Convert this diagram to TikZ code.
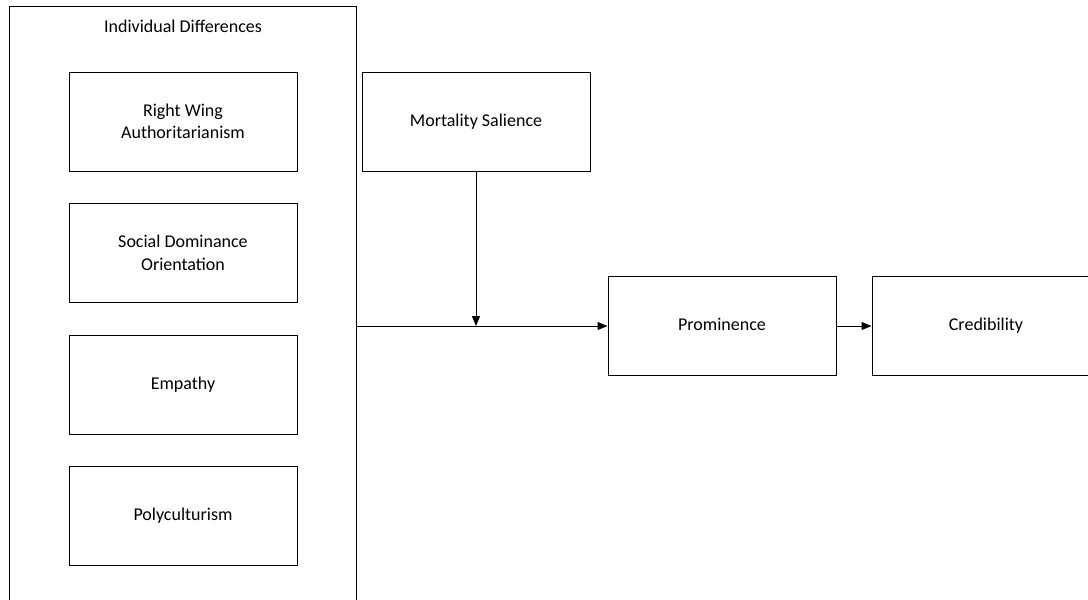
\documentclass[tikz,border=0pt]{standalone}
\usepackage{fontspec}
\setmainfont{Carlito}
\usepackage{tikz}
\usetikzlibrary{positioning,arrows.meta}
\tikzset{>={Triangle[length=10pt,width=8pt]}}

\begin{document}
\begin{tikzpicture}[
x=1pt, y=-1pt,
font=\fontsize{18}{22.5}\selectfont,
squarednode/.style={rectangle, align=center, draw=black, line width=1pt, minimum width=228pt, minimum height=99pt},
onelinenode/.style={squarednode, text height=13pt, text depth=4pt},
groupbox/.style={rectangle, draw=black, line width=1pt, minimum width=347pt, minimum height=640pt},
]
\useasboundingbox (0,0) rectangle (1088,600);
\clip (0,0) rectangle (1088,600);
%Nodes
\node[groupbox, anchor=north west](Individual) at (9,6){};
\node(IDTitle) at ([yshift=-20pt]Individual.north){Individual Differences};
\node[squarednode](RWA) at (183,121.5){Right Wing\\Authoritarianism};
\node[squarednode](SDO)[below=31.5pt of RWA]{Social Dominance\\Orientation};
\node[onelinenode](Empathy)[below=31.5pt of SDO]{Empathy};
\node[onelinenode](Polyculturism)[below=31.5pt of Empathy]{Polyculturism};
\node[onelinenode](Mortality) at (476,121.5){Mortality Salience};
\node[onelinenode](Prominence) at (722,326){Prominence};
\node[onelinenode](Credibility)[right=35pt of Prominence]{Credibility};

%Lines
\draw[->, line width=1pt] (Individual.east |- Prominence.west) -- (Prominence.west);
\draw[->, line width=1pt] (Mortality.south) -- (Mortality.south |- Prominence.west);
\draw[->, line width=1pt] (Prominence) -- (Credibility);
\end{tikzpicture}
\end{document}
